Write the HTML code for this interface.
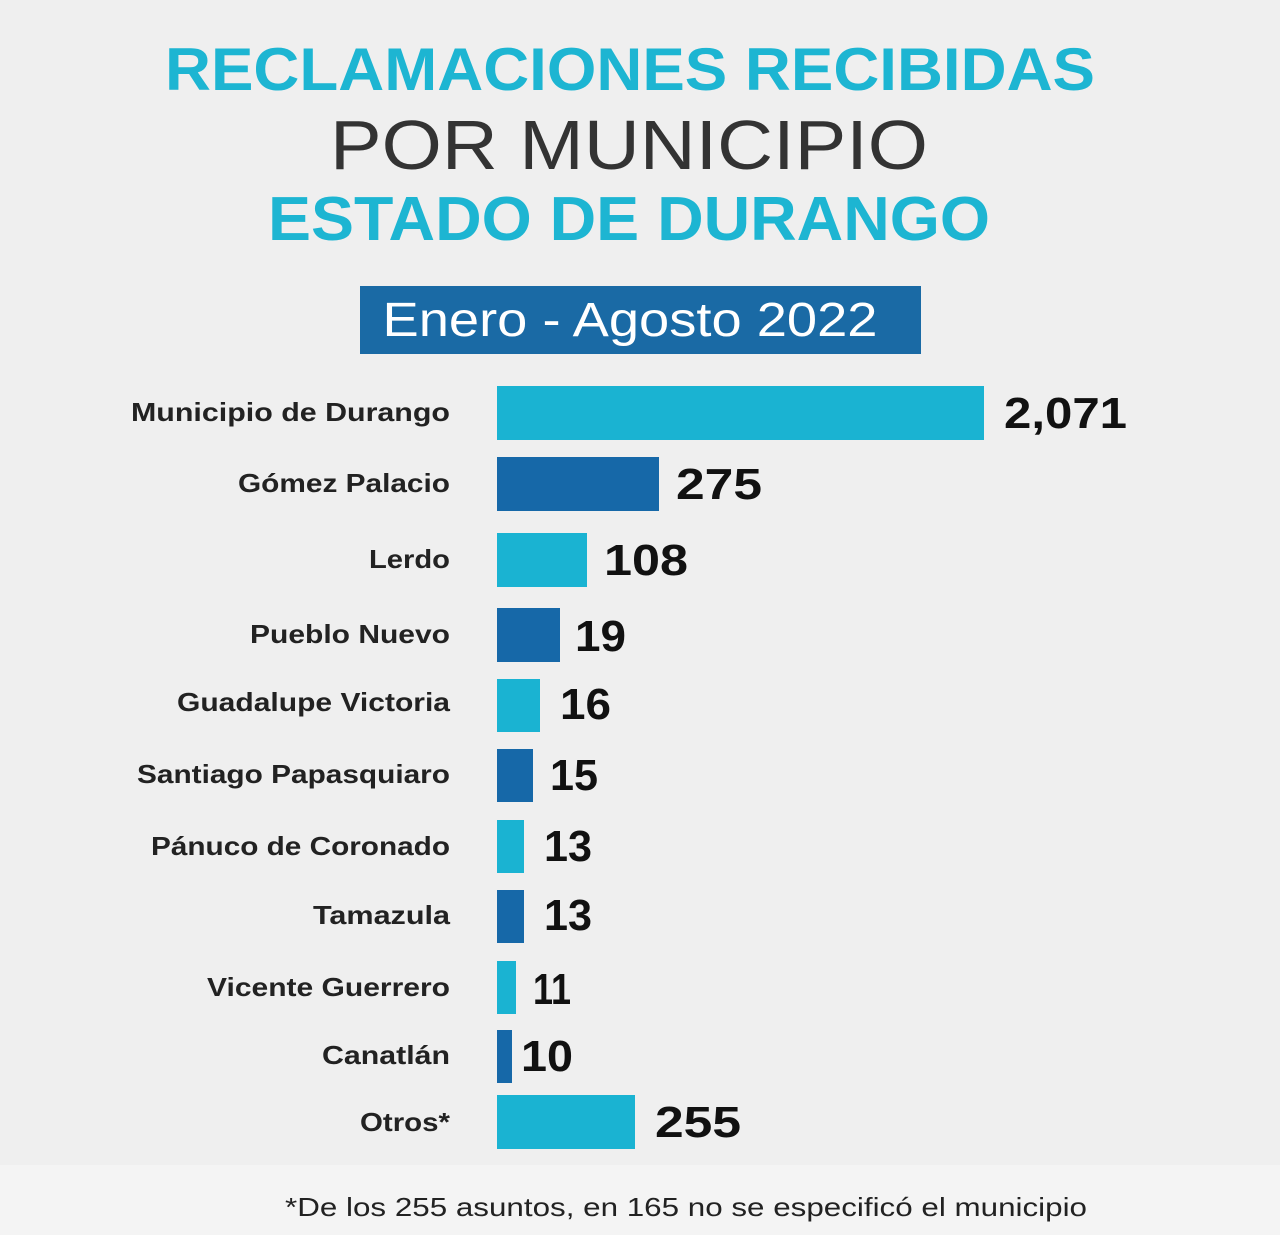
<!DOCTYPE html>
<html><head><meta charset="utf-8"><style>
html,body{margin:0;padding:0;background:#efefef;}
svg{display:block;}
text{font-family:"Liberation Sans",sans-serif;}
</style></head><body>
<svg width="1280" height="1235" viewBox="0 0 1280 1235" xmlns="http://www.w3.org/2000/svg">
<rect width="1280" height="1235" fill="#efefef"/>
<rect y="1165" width="1280" height="70" fill="#f4f4f4"/>
<text x="630" y="90" text-anchor="middle" font-size="60" font-weight="bold" fill="#1db5d2" textLength="930" lengthAdjust="spacingAndGlyphs">RECLAMACIONES RECIBIDAS</text>
<text x="629" y="169" text-anchor="middle" font-size="70" fill="#333" textLength="598" lengthAdjust="spacingAndGlyphs">POR MUNICIPIO</text>
<text x="629" y="240" text-anchor="middle" font-size="62" font-weight="bold" fill="#1db5d2" textLength="722" lengthAdjust="spacingAndGlyphs">ESTADO DE DURANGO</text>
<rect x="360" y="286" width="561" height="68" fill="#1a6aa5"/>
<text x="630" y="336" text-anchor="middle" font-size="48" fill="#fff" textLength="495" lengthAdjust="spacingAndGlyphs">Enero - Agosto 2022</text>
<g font-size="26" font-weight="bold" fill="#222" text-anchor="end" lengthAdjust="spacingAndGlyphs">
<text x="450" y="421" textLength="319" lengthAdjust="spacingAndGlyphs">Municipio de Durango</text>
<text x="450" y="492" textLength="212" lengthAdjust="spacingAndGlyphs">Gómez Palacio</text>
<text x="450" y="568" textLength="81" lengthAdjust="spacingAndGlyphs">Lerdo</text>
<text x="450" y="643" textLength="200" lengthAdjust="spacingAndGlyphs">Pueblo Nuevo</text>
<text x="450" y="711" textLength="273" lengthAdjust="spacingAndGlyphs">Guadalupe Victoria</text>
<text x="450" y="783" textLength="313" lengthAdjust="spacingAndGlyphs">Santiago Papasquiaro</text>
<text x="450" y="855" textLength="299" lengthAdjust="spacingAndGlyphs">Pánuco de Coronado</text>
<text x="450" y="924" textLength="137" lengthAdjust="spacingAndGlyphs">Tamazula</text>
<text x="450" y="996" textLength="243" lengthAdjust="spacingAndGlyphs">Vicente Guerrero</text>
<text x="450" y="1064" textLength="128" lengthAdjust="spacingAndGlyphs">Canatlán</text>
<text x="450" y="1131" textLength="90" lengthAdjust="spacingAndGlyphs">Otros*</text>
</g>
<g>
<rect x="497" y="386" width="487" height="54" fill="#1ab3d2"/>
<rect x="497" y="457" width="162" height="54" fill="#1668a8"/>
<rect x="497" y="533" width="90" height="54" fill="#1ab3d2"/>
<rect x="497" y="608" width="63" height="54" fill="#1668a8"/>
<rect x="497" y="679" width="43" height="53" fill="#1ab3d2"/>
<rect x="497" y="749" width="36" height="53" fill="#1668a8"/>
<rect x="497" y="820" width="27" height="53" fill="#1ab3d2"/>
<rect x="497" y="890" width="27" height="53" fill="#1668a8"/>
<rect x="497" y="961" width="19" height="53" fill="#1ab3d2"/>
<rect x="497" y="1030" width="15" height="53" fill="#1668a8"/>
<rect x="497" y="1095" width="138" height="54" fill="#1ab3d2"/>
</g>
<g font-size="44" font-weight="bold" fill="#111">
<text x="1004" y="428" textLength="123" lengthAdjust="spacingAndGlyphs">2,071</text>
<text x="676" y="499" textLength="86" lengthAdjust="spacingAndGlyphs">275</text>
<text x="604" y="575" textLength="84" lengthAdjust="spacingAndGlyphs">108</text>
<text x="575" y="651" textLength="51" lengthAdjust="spacingAndGlyphs">19</text>
<text x="560" y="719" textLength="51" lengthAdjust="spacingAndGlyphs">16</text>
<text x="550" y="790" textLength="48" lengthAdjust="spacingAndGlyphs">15</text>
<text x="544" y="861" textLength="48" lengthAdjust="spacingAndGlyphs">13</text>
<text x="544" y="930" textLength="48" lengthAdjust="spacingAndGlyphs">13</text>
<text x="533" y="1004" textLength="38" lengthAdjust="spacingAndGlyphs">11</text>
<text x="521" y="1071" textLength="52" lengthAdjust="spacingAndGlyphs">10</text>
<text x="655" y="1137" textLength="86" lengthAdjust="spacingAndGlyphs">255</text>
</g>
<text x="686" y="1216" text-anchor="middle" font-size="26" fill="#222" textLength="802" lengthAdjust="spacingAndGlyphs">*De los 255 asuntos, en 165 no se especificó el municipio</text>
</svg>
</body></html>
